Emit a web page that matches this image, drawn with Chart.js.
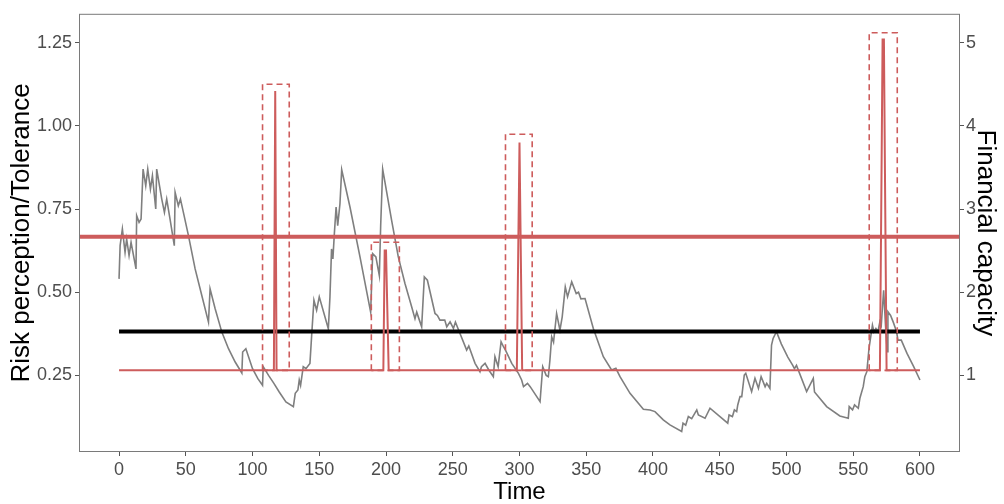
<!DOCTYPE html>
<html>
<head>
<meta charset="utf-8">
<script src="https://cdn.jsdelivr.net/npm/chart.js@4"></script>
<style>
  html, body { margin: 0; padding: 0; background: #fff; }
  #wrap { width: 1004px; height: 504px; }
</style>
</head>
<body>
<div id="wrap"><canvas id="riskChart" width="1004" height="504"></canvas></div>
<script>
// risk perception (grey line)
const riskTime = [0, 0.8, 2.5, 4.5, 5.7, 7.5, 9, 12.7, 13.2, 15, 16.5, 18, 20, 21.5, 23.5, 25, 27.5, 28.2,
  32, 34, 35.7, 38.2, 41.4, 42, 44.4, 46, 48.2, 52, 57, 62, 67, 68.2, 72, 77, 82, 87, 92, 92.6, 95,
  100, 104, 107.5, 108, 112, 116, 120, 125, 130.6, 132, 134, 135, 136, 138, 140, 143, 144.3, 146,
  148, 150, 156.8, 158, 159.2, 160.2, 161.3, 162.6, 163.8, 165.5, 166.8, 173, 180.5, 188.5, 190,
  192.4, 195, 196, 197.5, 204.2, 209.2, 214.2, 219.2, 221.7, 223, 225, 226.7, 228.7, 231, 236.7,
  238.5, 240.4, 244, 245.5, 248, 250.5, 252, 254, 259, 260.4, 262, 266.7, 270.4, 271.5, 274.2, 277,
  280.4, 281.6, 284, 286.2, 288, 289.5, 294.2, 299.2, 301.6, 303, 306, 308, 315.4, 317.4, 320,
  321.6, 322.8, 324.1, 325.5, 327.8, 330.3, 332, 334.3, 336, 339.1, 342.5, 344.2, 346, 349.1,
  355.3, 362.8, 369, 372.2, 375.3, 382.8, 392.8, 397.8, 401.5, 407.7, 412.7, 421.5, 422.5, 424.5,
  426.5, 429, 432.8, 434, 439, 442.7, 456, 457, 459.5, 461, 462.7, 463.5, 465.2, 466.5, 468.4,
  469.5, 473.9, 476.4, 479, 481, 484, 485.2, 487.6, 488.8, 490, 492.5, 496.2, 501, 504.6, 506,
  507.5, 515.1, 520.1, 521, 530.1, 540, 546.3, 547, 549.5, 551, 553.8, 555, 557.5, 558.7, 560.2,
  561.8, 564.4, 565.5, 567, 568.5, 570, 571, 572.8, 574.2, 575.5, 576, 578, 580, 582.5, 583.5, 586,
  590.3, 595.3, 600];
const riskValue = [0.54, 0.64, 0.69, 0.62, 0.66, 0.61, 0.65, 0.57, 0.73, 0.71, 0.72, 0.87, 0.82, 0.87, 0.81, 0.85, 0.75, 0.87,
  0.78, 0.74, 0.78, 0.72, 0.64, 0.80, 0.76, 0.78, 0.74, 0.67, 0.57, 0.49, 0.41, 0.51, 0.45, 0.38, 0.33, 0.29, 0.257, 0.32, 0.33,
  0.27, 0.24, 0.22, 0.276, 0.25, 0.226, 0.20, 0.17, 0.156, 0.196, 0.206, 0.236, 0.22, 0.276, 0.27, 0.286, 0.37, 0.476,
  0.446, 0.486, 0.39, 0.486, 0.63, 0.60, 0.676, 0.756, 0.70, 0.766, 0.868, 0.756, 0.606, 0.44, 0.616,
  0.606, 0.55, 0.70, 0.87, 0.716, 0.606, 0.526, 0.456, 0.42, 0.44, 0.416, 0.396, 0.546, 0.536, 0.436,
  0.43, 0.416, 0.416, 0.396, 0.411, 0.391, 0.41, 0.39, 0.34, 0.326, 0.338, 0.286, 0.261, 0.276, 0.286, 0.266,
  0.246, 0.306, 0.276, 0.351, 0.336, 0.326, 0.286, 0.256, 0.236, 0.216, 0.226, 0.216, 0.171, 0.276, 0.25,
  0.246, 0.296, 0.366, 0.35, 0.436, 0.386, 0.426, 0.516, 0.486, 0.531, 0.496, 0.50, 0.48, 0.481,
  0.391, 0.306, 0.266, 0.271, 0.246, 0.196, 0.148, 0.146, 0.141, 0.116, 0.101, 0.081, 0.106, 0.10,
  0.126, 0.12, 0.146, 0.131, 0.121, 0.151, 0.106, 0.131, 0.126, 0.146, 0.141, 0.161, 0.186, 0.186, 0.251,
  0.256, 0.201, 0.241, 0.211, 0.246, 0.216, 0.226, 0.211, 0.341, 0.361, 0.381, 0.344, 0.305, 0.281, 0.27,
  0.28, 0.201, 0.241, 0.20, 0.156, 0.128, 0.121, 0.156, 0.146, 0.161, 0.151, 0.181, 0.216, 0.246, 0.261,
  0.33, 0.401, 0.381, 0.391, 0.381, 0.411, 0.40, 0.506, 0.40, 0.321, 0.441, 0.43, 0.41, 0.381, 0.356, 0.356,
  0.316, 0.276, 0.236];

// financial capacity (thin red line, right axis)
const capTime = [0, 116, 117, 118, 198, 199, 200, 201, 202, 298, 299, 300, 301, 302, 570, 571, 572, 573, 574, 575, 600];
const capValue = [1.06, 1.06, 4.42, 1.06, 1.06, 2.5, 2.5, 1.78, 1.06, 1.06, 2.43, 3.8, 2.43, 1.06, 1.06, 3.0, 5.04, 5.04, 3.0, 1.06, 1.06];

// dashed boxes around the capacity spikes (right axis units)
const boxStart = [107.5, 189, 289.5, 562];
const boxEnd = [127.5, 210, 309.5, 583];
const boxTop = [4.5, 2.6, 3.9, 5.12];
const boxBottom = 1.06;

// horizontal reference levels (left axis)
const toleranceLevel = 0.382;
const thresholdLevel = 0.667;

const timeTicks = [0, 50, 100, 150, 200, 250, 300, 350, 400, 450, 500, 550, 600];
const riskTicks = [0.25, 0.5, 0.75, 1.0, 1.25];
const capTicks = [1, 2, 3, 4, 5];

const red = "#CD5C5C";
const font = "'Liberation Sans', Arial, sans-serif";

const boxDatasets = boxStart.map((x0, i) => ({
  data: [
    { x: x0, y: boxBottom }, { x: x0, y: boxTop[i] },
    { x: boxEnd[i], y: boxTop[i] }, { x: boxEnd[i], y: boxBottom }, { x: x0, y: boxBottom },
  ],
  yAxisID: "yR",
  borderColor: red,
  borderWidth: 1.6,
  borderDash: [6, 4],
  order: 2,
}));

const panelBorder = {
  id: "panelBorder",
  afterDraw(chart) {
    const { ctx, chartArea: a } = chart;
    ctx.save();
    ctx.strokeStyle = "#7a7a7a";
    ctx.lineWidth = 1;
    ctx.strokeRect(a.left + 0.5, a.top + 0.5, a.right - a.left - 1, a.bottom - a.top - 1);
    ctx.restore();
  },
};

function setTicks(list) {
  return (scale) => { scale.ticks = list.map((v) => ({ value: v })); };
}

new Chart(document.getElementById("riskChart").getContext("2d"), {
  type: "line",
  data: {
    datasets: [
      {
        data: [{ x: -30, y: thresholdLevel }, { x: 630, y: thresholdLevel }],
        yAxisID: "y", borderColor: red, borderWidth: 4, order: 0,
      },
      {
        data: capTime.map((t, i) => ({ x: t, y: capValue[i] })),
        yAxisID: "yR", borderColor: red, borderWidth: 2, order: 1,
      },
      ...boxDatasets,
      {
        data: [{ x: 0, y: toleranceLevel }, { x: 600, y: toleranceLevel }],
        yAxisID: "y", borderColor: "#000", borderWidth: 4, order: 3,
      },
      {
        data: riskTime.map((t, i) => ({ x: t, y: riskValue[i] })),
        yAxisID: "y", borderColor: "#7f7f7f", borderWidth: 1.6, order: 5,
      },
    ],
  },
  options: {
    responsive: false,
    animation: false,
    layout: { padding: { top: 12, left: 0, right: 0, bottom: 0 } },
    elements: { point: { radius: 0 }, line: { tension: 0, borderCapStyle: "butt" } },
    plugins: { legend: { display: false }, tooltip: { enabled: false } },
    scales: {
      x: {
        type: "linear", min: -30, max: 630,
        afterBuildTicks: setTicks(timeTicks),
        afterFit: (s) => { s.height = 52; },
        grid: { drawOnChartArea: false, tickLength: 4, color: "#555" },
        border: { display: false },
        ticks: { font: { family: font, size: 18 }, color: "#4D4D4D", padding: 3, maxRotation: 0 },
        title: { display: true, text: "Time", color: "#000", font: { family: font, size: 24, lineHeight: 1 }, padding: { top: 0, bottom: 0 } },
      },
      y: {
        type: "linear", position: "left", min: 0.0195, max: 1.337,
        afterBuildTicks: setTicks(riskTicks),
        afterFit: (s) => { s.width = 79; },
        grid: { drawOnChartArea: false, tickLength: 4, color: "#555" },
        border: { display: false },
        ticks: { font: { family: font, size: 18 }, color: "#4D4D4D", padding: 3, callback: (v) => v.toFixed(2) },
        title: { display: true, text: "Risk perception/Tolerance", color: "#000", font: { family: font, size: 26, lineHeight: 1 }, padding: { top: 9, bottom: 0 } },
      },
      yR: {
        type: "linear", position: "right", min: 0.078, max: 5.348,
        afterBuildTicks: setTicks(capTicks),
        afterFit: (s) => { s.width = 44; },
        grid: { drawOnChartArea: false, tickLength: 4, color: "#555" },
        border: { display: false },
        ticks: { font: { family: font, size: 18 }, color: "#4D4D4D", padding: 2 },
        title: { display: true, text: "Financial capacity", color: "#000", font: { family: font, size: 26, lineHeight: 1 }, padding: { top: 6, bottom: 0 } },
      },
    },
  },
  plugins: [panelBorder],
});
</script>
</body>
</html>
